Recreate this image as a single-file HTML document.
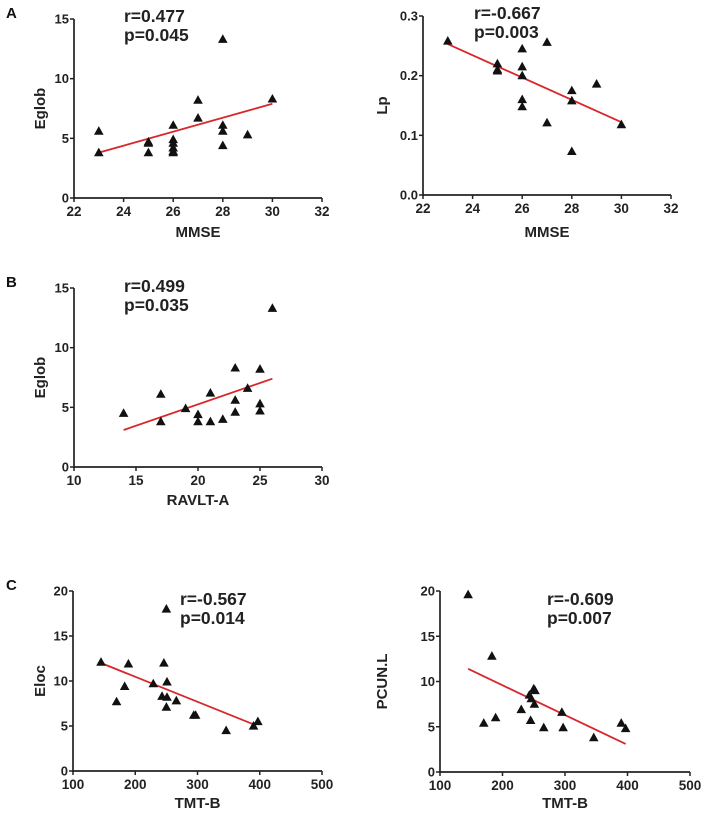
<!DOCTYPE html>
<html><head><meta charset="utf-8"><style>
html,body{margin:0;padding:0;background:#fff}
svg{display:block;font-family:"Liberation Sans",Arial,sans-serif}
</style></head><body>
<svg id="fig" width="708" height="824" viewBox="0 0 708 824"></svg>
<script>
// Panel A1: MMSE vs Eglob
const a1X=[23,23,25,25,25,26,26,26,26,26,26,27,27,28,28,28,28,29,30];
const a1Y=[5.6,3.8,4.6,4.7,3.8,6.1,4.9,4.6,4.2,3.9,3.8,8.2,6.7,13.3,6.1,5.6,4.4,5.3,8.3];
const a1Fit=[[23,3.8],[30,7.9]];
// Panel A2: MMSE vs Lp
const a2X=[23,25,25,25,26,26,26,26,26,27,27,28,28,28,29,30];
const a2Y=[0.258,0.22,0.21,0.208,0.245,0.215,0.2,0.16,0.148,0.256,0.121,0.175,0.158,0.073,0.186,0.118];
const a2Fit=[[23,0.253],[30,0.122]];
// Panel B: RAVLT-A vs Eglob
const bX=[14,17,17,19,20,20,21,21,22,23,23,23,24,25,25,25,26];
const bY=[4.5,6.1,3.8,4.9,4.4,3.8,6.2,3.8,4.0,8.3,5.6,4.6,6.6,8.2,5.3,4.7,13.3];
const bFit=[[14,3.1],[26,7.4]];
// Panel C1: TMT-B vs Eloc
const c1X=[145,170,183,189,229,243,246,250,251,251,250,266,294,297,346,390,397];
const c1Y=[12.1,7.7,9.4,11.9,9.7,8.3,12.0,18.0,9.9,8.2,7.1,7.8,6.2,6.2,4.5,5.0,5.5];
const c1Fit=[[145,12.0],[393,5.1]];
// Panel C2: TMT-B vs PCUN.L
const c2X=[145,170,183,189,230,243,245,246,250,252,251,266,295,297,346,390,397];
const c2Y=[19.6,5.4,12.8,6.0,6.9,8.5,5.7,8.1,9.2,9.0,7.5,4.9,6.6,4.9,3.8,5.4,4.8];
const c2Fit=[[145,11.4],[397,3.1]];
// Tick labels
const mmseTicks=[22,24,26,28,30,32];
const eglobTicks=[0,5,10,15];
const lpTicks=[0,0.1,0.2,0.3];
const lpTickLabels=["0.0","0.1","0.2","0.3"];
const ravltTicks=[10,15,20,25,30];
const tmtTicks=[100,200,300,400,500];
const c20Ticks=[0,5,10,15,20];

const NS="http://www.w3.org/2000/svg";
const svg=document.getElementById('fig');
function mk(tag,attrs,parent){const e=document.createElementNS(NS,tag);for(const k in attrs)e.setAttribute(k,attrs[k]);(parent||svg).appendChild(e);return e;}
function txt(s,attrs,parent){const e=mk('text',attrs,parent);e.textContent=s;return e;}

function panel(p){
  const g=mk('g',{});
  
  
  const sx=v=>p.x0+(v-p.xmin)/(p.xmax-p.xmin)*(p.x1-p.x0);
  const sy=v=>p.y0-(v-p.ymin)/(p.ymax-p.ymin)*(p.y0-p.y1);
  const ax=mk('g',{},g);
  
  
  mk('line',{x1:p.x0,y1:p.y1,x2:p.x0,y2:p.y0+1,stroke:'#222','stroke-width':1.7},ax);
  mk('line',{x1:p.x0-1,y1:p.y0,x2:p.x1,y2:p.y0,stroke:'#222','stroke-width':1.7},ax);
  p.xt.forEach(v=>{
    mk('line',{x1:sx(v),y1:p.y0,x2:sx(v),y2:p.y0+4,stroke:'#222','stroke-width':1.5},ax);
    const t=txt(String(v),{x:sx(v),y:p.y0+18,'text-anchor':'middle','font-size':13.5,'font-weight':'bold',fill:'#222'},ax);
    
    
  });
  p.yt.forEach((v,i)=>{
    mk('line',{x1:p.x0-4,y1:sy(v),x2:p.x0,y2:sy(v),stroke:'#222','stroke-width':1.5},ax);
    const t=txt(p.ytl?p.ytl[i]:String(v),{x:p.x0-5,y:sy(v)+4.5,'text-anchor':'end','font-size':13,'font-weight':'bold',fill:'#222'},ax);
    
    
  });
  const xl=txt(p.xlab,{x:(p.x0+p.x1)/2,y:p.xly,'text-anchor':'middle','font-size':15,'font-weight':'bold',fill:'#222'},g);
  
  
  const cy=(p.y0+p.y1)/2;
  const yl=txt(p.ylab,{x:0,y:0,'text-anchor':'middle','font-size':15,'font-weight':'bold',fill:'#222',transform:`translate(${p.ylx},${cy}) rotate(-90)`},g);
  
  
  const fl=mk('line',{x1:sx(p.fit[0][0]),y1:sy(p.fit[0][1]),x2:sx(p.fit[1][0]),y2:sy(p.fit[1][1]),stroke:'#d9262b','stroke-width':1.8},g);
  
  
  p.xs.forEach((xv,i)=>{
    const cx=sx(xv),cyy=sy(p.ys[i]);
    const tr=mk('polygon',{points:`${cx},${cyy-5} ${cx-4.8},${cyy+3.6} ${cx+4.8},${cyy+3.6}`,fill:'#111'},g);
    
    
  });
  const r=txt(p.r,{x:p.sx,y:p.sy,'font-size':17.5,'font-weight':'bold',fill:'#222'},g);
  
  
  const pv=txt(p.p,{x:p.sx,y:p.sy+19,'font-size':17.5,'font-weight':'bold',fill:'#222'},g);
  
  
}

panel({name:'panel-a-mmse-eglob',x0:74,x1:322,y0:198,y1:19,xmin:22,xmax:32,ymin:0,ymax:15,xt:mmseTicks,yt:eglobTicks,xs:a1X,ys:a1Y,fit:a1Fit,xlab:'MMSE',xly:237,ylab:'Eglob',ylx:45,r:'r=0.477',p:'p=0.045',sx:124,sy:22});
panel({name:'panel-a-mmse-lp',x0:423,x1:671,y0:195,y1:16,xmin:22,xmax:32,ymin:0,ymax:0.3,xt:mmseTicks,yt:lpTicks,ytl:lpTickLabels,xs:a2X,ys:a2Y,fit:a2Fit,xlab:'MMSE',xly:237,ylab:'Lp',ylx:387,r:'r=-0.667',p:'p=0.003',sx:474,sy:19});
panel({name:'panel-b-ravlt-eglob',x0:74,x1:322,y0:467,y1:288,xmin:10,xmax:30,ymin:0,ymax:15,xt:ravltTicks,yt:eglobTicks,xs:bX,ys:bY,fit:bFit,xlab:'RAVLT-A',xly:505,ylab:'Eglob',ylx:45,r:'r=0.499',p:'p=0.035',sx:124,sy:292});
panel({name:'panel-c-tmt-eloc',x0:73,x1:322,y0:771,y1:591,xmin:100,xmax:500,ymin:0,ymax:20,xt:tmtTicks,yt:c20Ticks,xs:c1X,ys:c1Y,fit:c1Fit,xlab:'TMT-B',xly:808,ylab:'Eloc',ylx:45,r:'r=-0.567',p:'p=0.014',sx:180,sy:605});
panel({name:'panel-c-tmt-pcun',x0:440,x1:690,y0:772,y1:591,xmin:100,xmax:500,ymin:0,ymax:20,xt:tmtTicks,yt:c20Ticks,xs:c2X,ys:c2Y,fit:c2Fit,xlab:'TMT-B',xly:808,ylab:'PCUN.L',ylx:387,r:'r=-0.609',p:'p=0.007',sx:547,sy:605});

[['A',18],['B',287],['C',590]].forEach(([l,y])=>{
  const t=txt(l,{x:6,y:y,'font-size':15,'font-weight':'bold',fill:'#111'});
  
  
});
</script>
</body></html>
